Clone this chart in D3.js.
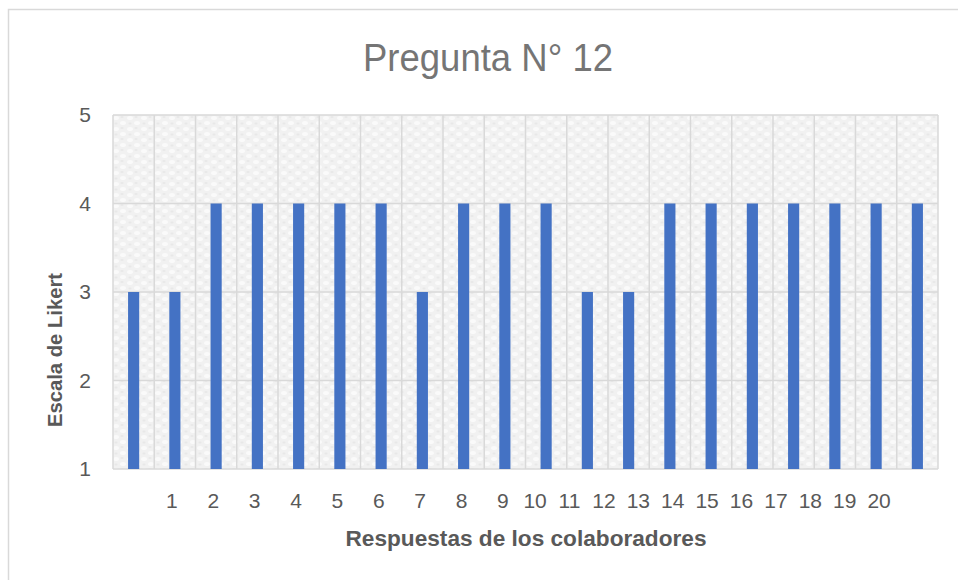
<!DOCTYPE html>
<html lang="es">
<head>
<meta charset="UTF-8" />
<title>Pregunta N° 12</title>
<script src="https://d3js.org/d3.v7.min.js"></script>
<style>
  body { margin: 0; background: #fff; }
  svg { display: block; font-family: "Liberation Sans", Arial, sans-serif; }
</style>
</head>
<body>
<div id="chart"></div>
<script>
  // data
  const respuestas = d3.range(1, 21);
  const valores = [3, 3, 4, 4, 4, 4, 4, 3, 4, 4, 4, 3, 3, 4, 4, 4, 4, 4, 4, 4];
  const yTicks = [1, 2, 3, 4, 5];
  const xLabels = ["1", "2", "3", "4", "5", "6", "7", "8", "9", "10",
    "11", "12", "13", "14", "15", "16", "17", "18", "19", "20"];

  const width = 958, height = 580;
  const margin = { top: 115, right: 20, bottom: 111, left: 113 };
  const plotW = 938 - margin.left;
  const plotH = height - margin.top - margin.bottom;

  const svg = d3.select("#chart").append("svg")
    .attr("width", width)
    .attr("height", height);

  // chart area border
  svg.append("rect")
    .attr("x", 8.5).attr("y", 9.5)
    .attr("width", 1000).attr("height", 700)
    .attr("fill", "#fff")
    .attr("stroke", "#d9d9d9")
    .attr("stroke-width", 1.5);

  // texture for plot area
  const defs = svg.append("defs");
  const pat = defs.append("pattern")
    .attr("id", "tex")
    .attr("patternUnits", "userSpaceOnUse")
    .attr("width", 14).attr("height", 11);
  pat.append("rect").attr("width", 14).attr("height", 11).attr("fill", "#f1f1f1");
  pat.append("ellipse").attr("cx", 3).attr("cy", 3).attr("rx", 3).attr("ry", 2).attr("fill", "#fafafa");
  pat.append("ellipse").attr("cx", 10).attr("cy", 8).attr("rx", 3).attr("ry", 2).attr("fill", "#fafafa");
  pat.append("ellipse").attr("cx", 9).attr("cy", 2).attr("rx", 1.5).attr("ry", 1).attr("fill", "#e8e8e8");
  pat.append("ellipse").attr("cx", 3).attr("cy", 8.5).attr("rx", 1.5).attr("ry", 1).attr("fill", "#e8e8e8");

  const g = svg.append("g").attr("transform", `translate(${margin.left},${margin.top})`);

  const x = d3.scaleBand()
    .domain(respuestas)
    .range([0, plotW])
    .paddingInner(0.73)
    .paddingOuter(0.365);

  const band = d3.scaleBand().domain(respuestas).range([0, plotW]);

  const y = d3.scaleLinear().domain([1, 5]).range([plotH, 0]);

  g.append("rect")
    .attr("width", plotW).attr("height", plotH)
    .attr("fill", "url(#tex)");

  // gridlines
  g.selectAll(".hgrid").data(yTicks).join("line")
    .attr("x1", 0).attr("x2", plotW)
    .attr("y1", d => y(d)).attr("y2", d => y(d))
    .attr("stroke", "#d9d9d9").attr("stroke-width", 1.5);

  g.selectAll(".vgrid").data(respuestas.concat([null])).join("line")
    .attr("x1", (d, i) => i * band.step()).attr("x2", (d, i) => i * band.step())
    .attr("y1", 0).attr("y2", plotH)
    .attr("stroke", "#d9d9d9").attr("stroke-width", 1.5);

  // bars
  g.selectAll(".bar").data(valores).join("rect")
    .attr("x", (d, i) => x(respuestas[i]))
    .attr("width", x.bandwidth())
    .attr("y", d => y(d))
    .attr("height", d => y(1) - y(d))
    .attr("fill", "#4472c4");

  // y axis labels
  g.selectAll(".ytick").data(yTicks).join("text")
    .attr("x", -22).attr("y", d => y(d))
    .attr("dy", "0.35em")
    .attr("text-anchor", "end")
    .attr("font-size", 21)
    .attr("fill", "#595959")
    .text(d => d);

  // x labels: 1-9 sit under the next bar, 10-20 squeezed together
  const lab1 = d3.scaleLinear().domain([1, 9])
    .range([band(2) + band.bandwidth() / 2 - 3, band(10) + band.bandwidth() / 2 - 2]);
  const lab2 = d3.scaleLinear().domain([10, 20])
    .range([band(11) + band.bandwidth() / 2 - 11, band(19) + band.bandwidth() / 2 + 3]);

  g.selectAll(".xtick").data(xLabels).join("text")
    .attr("x", d => +d < 10 ? lab1(+d) : lab2(+d))
    .attr("y", plotH + 39)
    .attr("text-anchor", "middle")
    .attr("font-size", 21)
    .attr("fill", "#595959")
    .text(d => d);

  // title
  svg.append("text")
    .attr("x", 488).attr("y", 71)
    .attr("text-anchor", "middle")
    .attr("font-size", 39)
    .attr("fill", "#757575")
    .attr("textLength", 250)
    .attr("lengthAdjust", "spacingAndGlyphs")
    .text("Pregunta N° 12");

  // axis titles
  svg.append("text")
    .attr("x", 526).attr("y", 546)
    .attr("text-anchor", "middle")
    .attr("font-size", 22)
    .attr("font-weight", "bold")
    .attr("fill", "#595959")
    .attr("textLength", 361)
    .attr("lengthAdjust", "spacingAndGlyphs")
    .text("Respuestas de los colaboradores");

  svg.append("text")
    .attr("transform", "translate(62,350) rotate(-90)")
    .attr("text-anchor", "middle")
    .attr("font-size", 21)
    .attr("font-weight", "bold")
    .attr("fill", "#595959")
    .attr("textLength", 154)
    .attr("lengthAdjust", "spacingAndGlyphs")
    .text("Escala de Likert");
</script>
</body>
</html>
